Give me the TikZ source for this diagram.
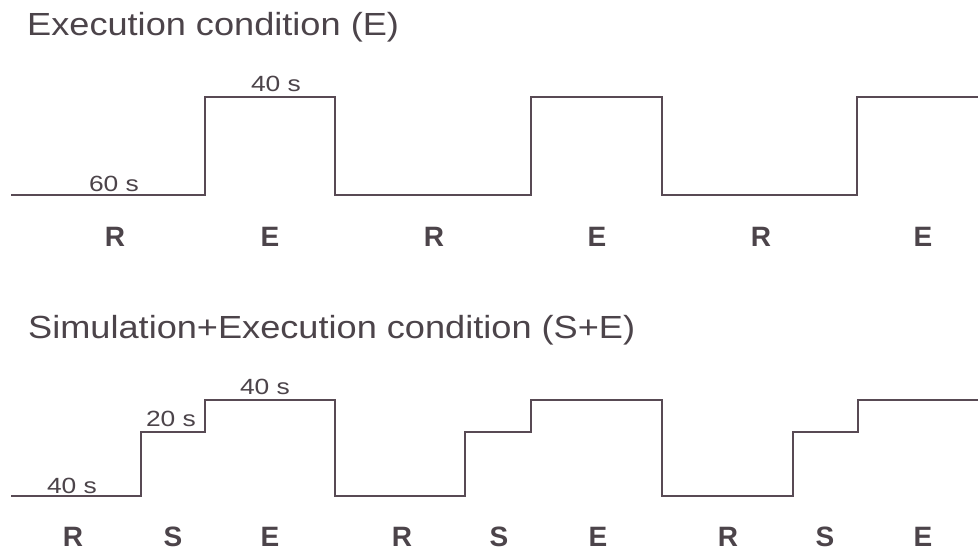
\documentclass[tikz,border=0pt]{standalone}
\usepackage{fontspec}
\setmainfont{Liberation Sans}
\newfontfamily\titlefont[FakeStretch=1.13]{Liberation Sans}
\newfontfamily\durfont[FakeStretch=1.2]{Liberation Sans}
\definecolor{wave}{RGB}{88,74,84}
\definecolor{ink}{RGB}{76,68,74}
\begin{document}
\begin{tikzpicture}[x=1pt,y=-1pt,
  wavepath/.style={draw=wave,line width=2.8pt,line join=miter},
  title/.style={anchor=base west,inner sep=0pt,text=ink,font=\titlefont\fontsize{32}{32}\selectfont},
  dur/.style={anchor=base,inner sep=0pt,text=ink,font=\durfont\fontsize{22}{22}\selectfont},
  phase/.style={anchor=base,inner sep=0pt,text=ink,font=\fontsize{28}{28}\selectfont\bfseries}]
\useasboundingbox (0,0) rectangle (978,550);
\fill[white] (0,0) rectangle (978,550);
% titles
\node[title] (t1) at (27,35) {Execution condition (E)};
\node[title] (t2) at (28,338) {Simulation+Execution condition (S+E)};
% top waveform
\draw[wavepath] (11,195) -- (205,195) -- (205,97) -- (335,97) -- (335,195)
  -- (531,195) -- (531,97) -- (662,97) -- (662,195) -- (857,195) -- (857,97) -- (978,97);
\node[dur] (d60) at (114,191) {60 s};
\node[dur] (d40a) at (276,91) {40 s};
\foreach \x/\l [count=\i] in {115/R,270/E,434/R,597/E,761/R,923/E}
  \node[phase] (p1\i) at (\x,246) {\l};
% bottom waveform
\draw[wavepath] (11,496) -- (141,496) -- (141,432) -- (205,432) -- (205,400) -- (335,400) -- (335,496)
  -- (465,496) -- (465,432) -- (531,432) -- (531,400) -- (662,400) -- (662,496)
  -- (793,496) -- (793,432) -- (858,432) -- (858,400) -- (978,400);
\node[dur] (d40b) at (72,493) {40 s};
\node[dur] (d20) at (171,426) {20 s};
\node[dur] (d40c) at (265,394) {40 s};
\foreach \x/\l [count=\i] in {73/R,173/S,270/E,402/R,499/S,598/E,728/R,825/S,923/E}
  \node[phase] (p2\i) at (\x,546) {\l};
\end{tikzpicture}
\end{document}
